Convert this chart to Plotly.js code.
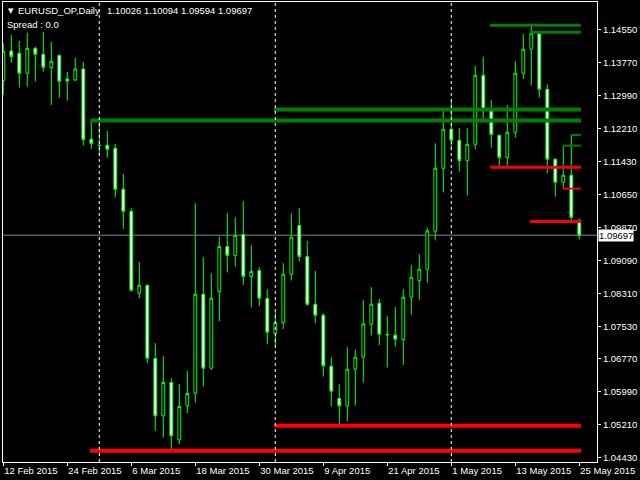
<!DOCTYPE html>
<html>
<head>
<meta charset="utf-8">
<script src="https://cdn.plot.ly/plotly-3.0.1.min.js"></script>
<style>
  html, body { margin: 0; padding: 0; background: #000; }
  #chart { width: 640px; height: 480px; }
</style>
</head>
<body>
<div id="chart"></div>
<script>
// EURUSD daily bars, 12 Feb 2015 - 25 May 2015
const symbol = 'EURUSD_OP,Daily';
const spreadText = 'Spread : 0.0';

const dates = [
  '12 Feb 2015','13 Feb 2015','16 Feb 2015','17 Feb 2015','18 Feb 2015','19 Feb 2015','20 Feb 2015',
  '23 Feb 2015','24 Feb 2015','25 Feb 2015','26 Feb 2015','27 Feb 2015',
  '2 Mar 2015','3 Mar 2015','4 Mar 2015','5 Mar 2015','6 Mar 2015','9 Mar 2015','10 Mar 2015',
  '11 Mar 2015','12 Mar 2015','13 Mar 2015','16 Mar 2015','17 Mar 2015','18 Mar 2015','19 Mar 2015',
  '20 Mar 2015','23 Mar 2015','24 Mar 2015','25 Mar 2015','26 Mar 2015','27 Mar 2015','30 Mar 2015',
  '31 Mar 2015',
  '1 Apr 2015','2 Apr 2015','3 Apr 2015','6 Apr 2015','7 Apr 2015','8 Apr 2015','9 Apr 2015',
  '10 Apr 2015','13 Apr 2015','14 Apr 2015','15 Apr 2015','16 Apr 2015','17 Apr 2015','20 Apr 2015',
  '21 Apr 2015','22 Apr 2015','23 Apr 2015','24 Apr 2015','27 Apr 2015','28 Apr 2015','29 Apr 2015',
  '30 Apr 2015',
  '1 May 2015','4 May 2015','5 May 2015','6 May 2015','7 May 2015','8 May 2015','11 May 2015',
  '12 May 2015','13 May 2015','14 May 2015','15 May 2015','18 May 2015','19 May 2015','20 May 2015',
  '21 May 2015','22 May 2015','25 May 2015'
];

const open = [
  1.13352,1.14054,1.14000,1.13526,1.14117,1.13975,1.13660,1.13951,1.13392,1.13368,
  1.13628,1.11965,1.11824,1.11824,1.11753,1.10783,1.10263,1.08325,1.08506,1.06780,
  1.05425,1.06213,1.04858,1.05661,1.05961,1.08301,1.06552,1.08364,1.09428,1.09215,
  1.09712,1.08719,1.08861,1.08199,1.07379,1.07631,1.08774,1.09925,1.09192,1.08065,
  1.07805,1.06599,1.05835,1.05654,1.06528,1.06812,1.07592,1.08088,1.07356,1.07332,
  1.07230,1.08230,1.08624,1.08892,1.09791,1.11280,1.12202,1.11942,1.11461,1.11847,
  1.13478,1.12659,1.12060,1.11532,1.12131,1.13526,1.14093,1.14471,1.13147,1.11493,
  1.10949,1.11114,1.10026
];
const high = [
  1.14235,1.14432,1.14290,1.14487,1.14156,1.14503,1.14266,1.13959,1.13557,1.13888,
  1.13794,1.12422,1.12399,1.12162,1.11855,1.11146,1.10334,1.09058,1.08546,1.07143,
  1.06836,1.06316,1.06174,1.06489,1.10452,1.09176,1.08798,1.09664,1.10216,1.10121,
  1.10508,1.09460,1.08939,1.08420,1.07892,1.09034,1.10216,1.10334,1.09562,1.08853,
  1.07852,1.06812,1.06174,1.07048,1.06986,1.08167,1.08467,1.08191,1.07789,1.08002,
  1.08420,1.08995,1.09247,1.09877,1.11871,1.12659,1.12895,1.12226,1.12226,1.13699,
  1.13920,1.12895,1.12076,1.12777,1.13817,1.14455,1.14668,1.14495,1.13266,1.11516,
  1.11816,1.12068,1.10094
];
const low = [
  1.13014,1.13778,1.13187,1.13210,1.13329,1.13565,1.12777,1.12950,1.12880,1.13344,
  1.11816,1.11737,1.11587,1.11532,1.10586,1.09846,1.08364,1.08207,1.06670,1.05070,
  1.04913,1.04582,1.04755,1.05488,1.05740,1.06118,1.06512,1.07655,1.08814,1.08955,
  1.08522,1.07986,1.08026,1.07119,1.07080,1.07474,1.08624,1.09074,1.08026,1.07616,
  1.06355,1.05646,1.05173,1.05291,1.05669,1.06213,1.07324,1.07096,1.06568,1.07064,
  1.06631,1.07813,1.08167,1.08577,1.09570,1.10705,1.11713,1.11201,1.10634,1.11729,
  1.12359,1.11768,1.11303,1.11319,1.12005,1.13392,1.13234,1.12950,1.11162,1.10610,
  1.10783,1.09995,1.09594
];
const close = [
  1.14038,1.13920,1.13526,1.14117,1.13975,1.13668,1.13809,1.13337,1.13344,1.13628,
  1.11957,1.11863,1.11816,1.11729,1.10783,1.10263,1.08396,1.08514,1.06788,1.05425,
  1.06213,1.04952,1.05646,1.05953,1.08301,1.06552,1.08207,1.09428,1.09215,1.09688,
  1.08719,1.08837,1.08207,1.07403,1.07631,1.08774,1.09649,1.09192,1.08065,1.07805,
  1.06607,1.06008,1.05661,1.06528,1.06812,1.07600,1.08065,1.07356,1.07340,1.07237,
  1.08230,1.08703,1.08892,1.09798,1.11280,1.12202,1.11942,1.11461,1.11847,1.13478,
  1.12643,1.12076,1.11532,1.12131,1.13526,1.14093,1.14471,1.13147,1.11493,1.10949,
  1.11114,1.10121,1.09697
];

// Support / resistance levels: price and the bar position where each one starts
const resistLevel = [1.14660, 1.14495, 1.12667, 1.12407, 1.12068, 1.11816];
const resistFrom  = [60.85, 65.85, 33.85, 10.9, 71, 70];
const supportLevel = [1.11303, 1.10799, 1.10019, 1.05188, 1.04597];
const supportFrom  = [60.85, 70, 65.85, 33.85, 10.85];
const levelEnd = 72.2;

const xTickLabels = ['12 Feb 2015','24 Feb 2015','6 Mar 2015','18 Mar 2015','30 Mar 2015',
                     '9 Apr 2015','21 Apr 2015','1 May 2015','13 May 2015','25 May 2015'];
const yTickLabels = ['1.14550','1.13770','1.12990','1.12210','1.11430','1.10650','1.09870',
                     '1.09090','1.08310','1.07530','1.06770','1.05990','1.05210','1.04430'];

// ---- styles ----
const resistWidth = [3, 3, 4, 4, 2, 2];
const supportWidth = [3, 2, 3, 4, 4];
const FONT = 'Liberation Sans, Arial, sans-serif';

const idx = dates.map((d, i) => i);
const last = dates.length - 1;

const traces = [{
  type: 'candlestick',
  x: idx, open: open, high: high, low: low, close: close,
  increasing: { line: { color: '#00ff00', width: 1 }, fillcolor: '#000000' },
  decreasing: { line: { color: '#00ff00', width: 1 }, fillcolor: '#ffffff' },
  whiskerwidth: 0,
  hoverinfo: 'skip',
  showlegend: false
}];

resistLevel.forEach((lv, k) => traces.push({
  type: 'scatter', mode: 'lines', x: [resistFrom[k], levelEnd], y: [lv, lv],
  line: { color: '#008000', width: resistWidth[k] }, hoverinfo: 'skip', showlegend: false
}));
supportLevel.forEach((lv, k) => traces.push({
  type: 'scatter', mode: 'lines', x: [supportFrom[k], levelEnd], y: [lv, lv],
  line: { color: '#ff0000', width: supportWidth[k] }, hoverinfo: 'skip', showlegend: false
}));

// Period separators on the first bar of each new month
const monthOf = d => d.split(' ')[1];
const shapes = [];
for (let i = 1; i < dates.length; i++) {
  if (monthOf(dates[i]) !== monthOf(dates[i - 1])) {
    shapes.push({ type: 'line', xref: 'x', yref: 'paper', x0: i, x1: i, y0: 0, y1: 1,
      line: { color: '#ffffff', width: 1, dash: '3px,3px' }, layer: 'above' });
  }
}
// Bid line at the last close
shapes.push({ type: 'line', xref: 'paper', yref: 'y', x0: 0, x1: 1, y0: close[last], y1: close[last],
  line: { color: '#778899', width: 1 }, layer: 'below' });

const annotations = [
  { xref: 'paper', yref: 'paper', x: 0.0045, y: 0.9815, xanchor: 'left', yanchor: 'middle',
    text: '▼', showarrow: false, font: { family: 'DejaVu Sans', size: 7, color: '#ffffff' } },
  { xref: 'paper', yref: 'paper', x: 0.0225, y: 0.9815, xanchor: 'left', yanchor: 'middle',
    text: symbol, showarrow: false, font: { family: FONT, size: 9.5, color: '#ffffff' } },
  { xref: 'paper', yref: 'paper', x: 0.1715, y: 0.9815, xanchor: 'left', yanchor: 'middle',
    text: [open[last], high[last], low[last], close[last]].map(v => v.toFixed(5)).join(' '),
    showarrow: false, font: { family: FONT, size: 9.5, color: '#ffffff' } },
  { xref: 'paper', yref: 'paper', x: 0.004, y: 0.952, xanchor: 'left', yanchor: 'middle',
    text: spreadText, showarrow: false, font: { family: FONT, size: 9.5, color: '#ffffff' } },
  { xref: 'paper', yref: 'y', x: 1, y: close[last], xanchor: 'left', yanchor: 'middle', xshift: 1,
    text: close[last].toFixed(5), showarrow: false, bgcolor: '#ffffff', borderpad: 0,
    font: { family: FONT, size: 9.5, color: '#000000' } }
];

const layout = {
  width: 640, height: 480,
  margin: { l: 3, r: 43, t: 2, b: 18, pad: 0 },
  paper_bgcolor: '#000000', plot_bgcolor: '#000000',
  showlegend: false,
  boxgap: 0.5,
  xaxis: {
    range: [-0.0375, 74.2125], fixedrange: true,
    showgrid: false, zeroline: false,
    showline: true, linecolor: '#ffffff', linewidth: 1, mirror: true,
    ticks: 'outside', ticklen: 3, tickcolor: '#ffffff',
    tickvals: xTickLabels.map(t => dates.indexOf(t)), ticktext: xTickLabels,
    ticklabelposition: 'outside right',
    tickfont: { family: FONT, size: 9.5, color: '#ffffff' },
    rangeslider: { visible: false }
  },
  yaxis: {
    side: 'right', range: [1.04333, 1.15212], fixedrange: true,
    showgrid: false, zeroline: false,
    showline: true, linecolor: '#ffffff', linewidth: 1, mirror: true,
    ticks: 'outside', ticklen: 3, tickcolor: '#ffffff',
    tickvals: yTickLabels.map(Number), ticktext: yTickLabels,
    tickfont: { family: FONT, size: 9.5, color: '#ffffff' }
  },
  shapes: shapes,
  annotations: annotations
};

Plotly.newPlot('chart', traces, layout, { staticPlot: true, displayModeBar: false });
</script>
</body>
</html>
